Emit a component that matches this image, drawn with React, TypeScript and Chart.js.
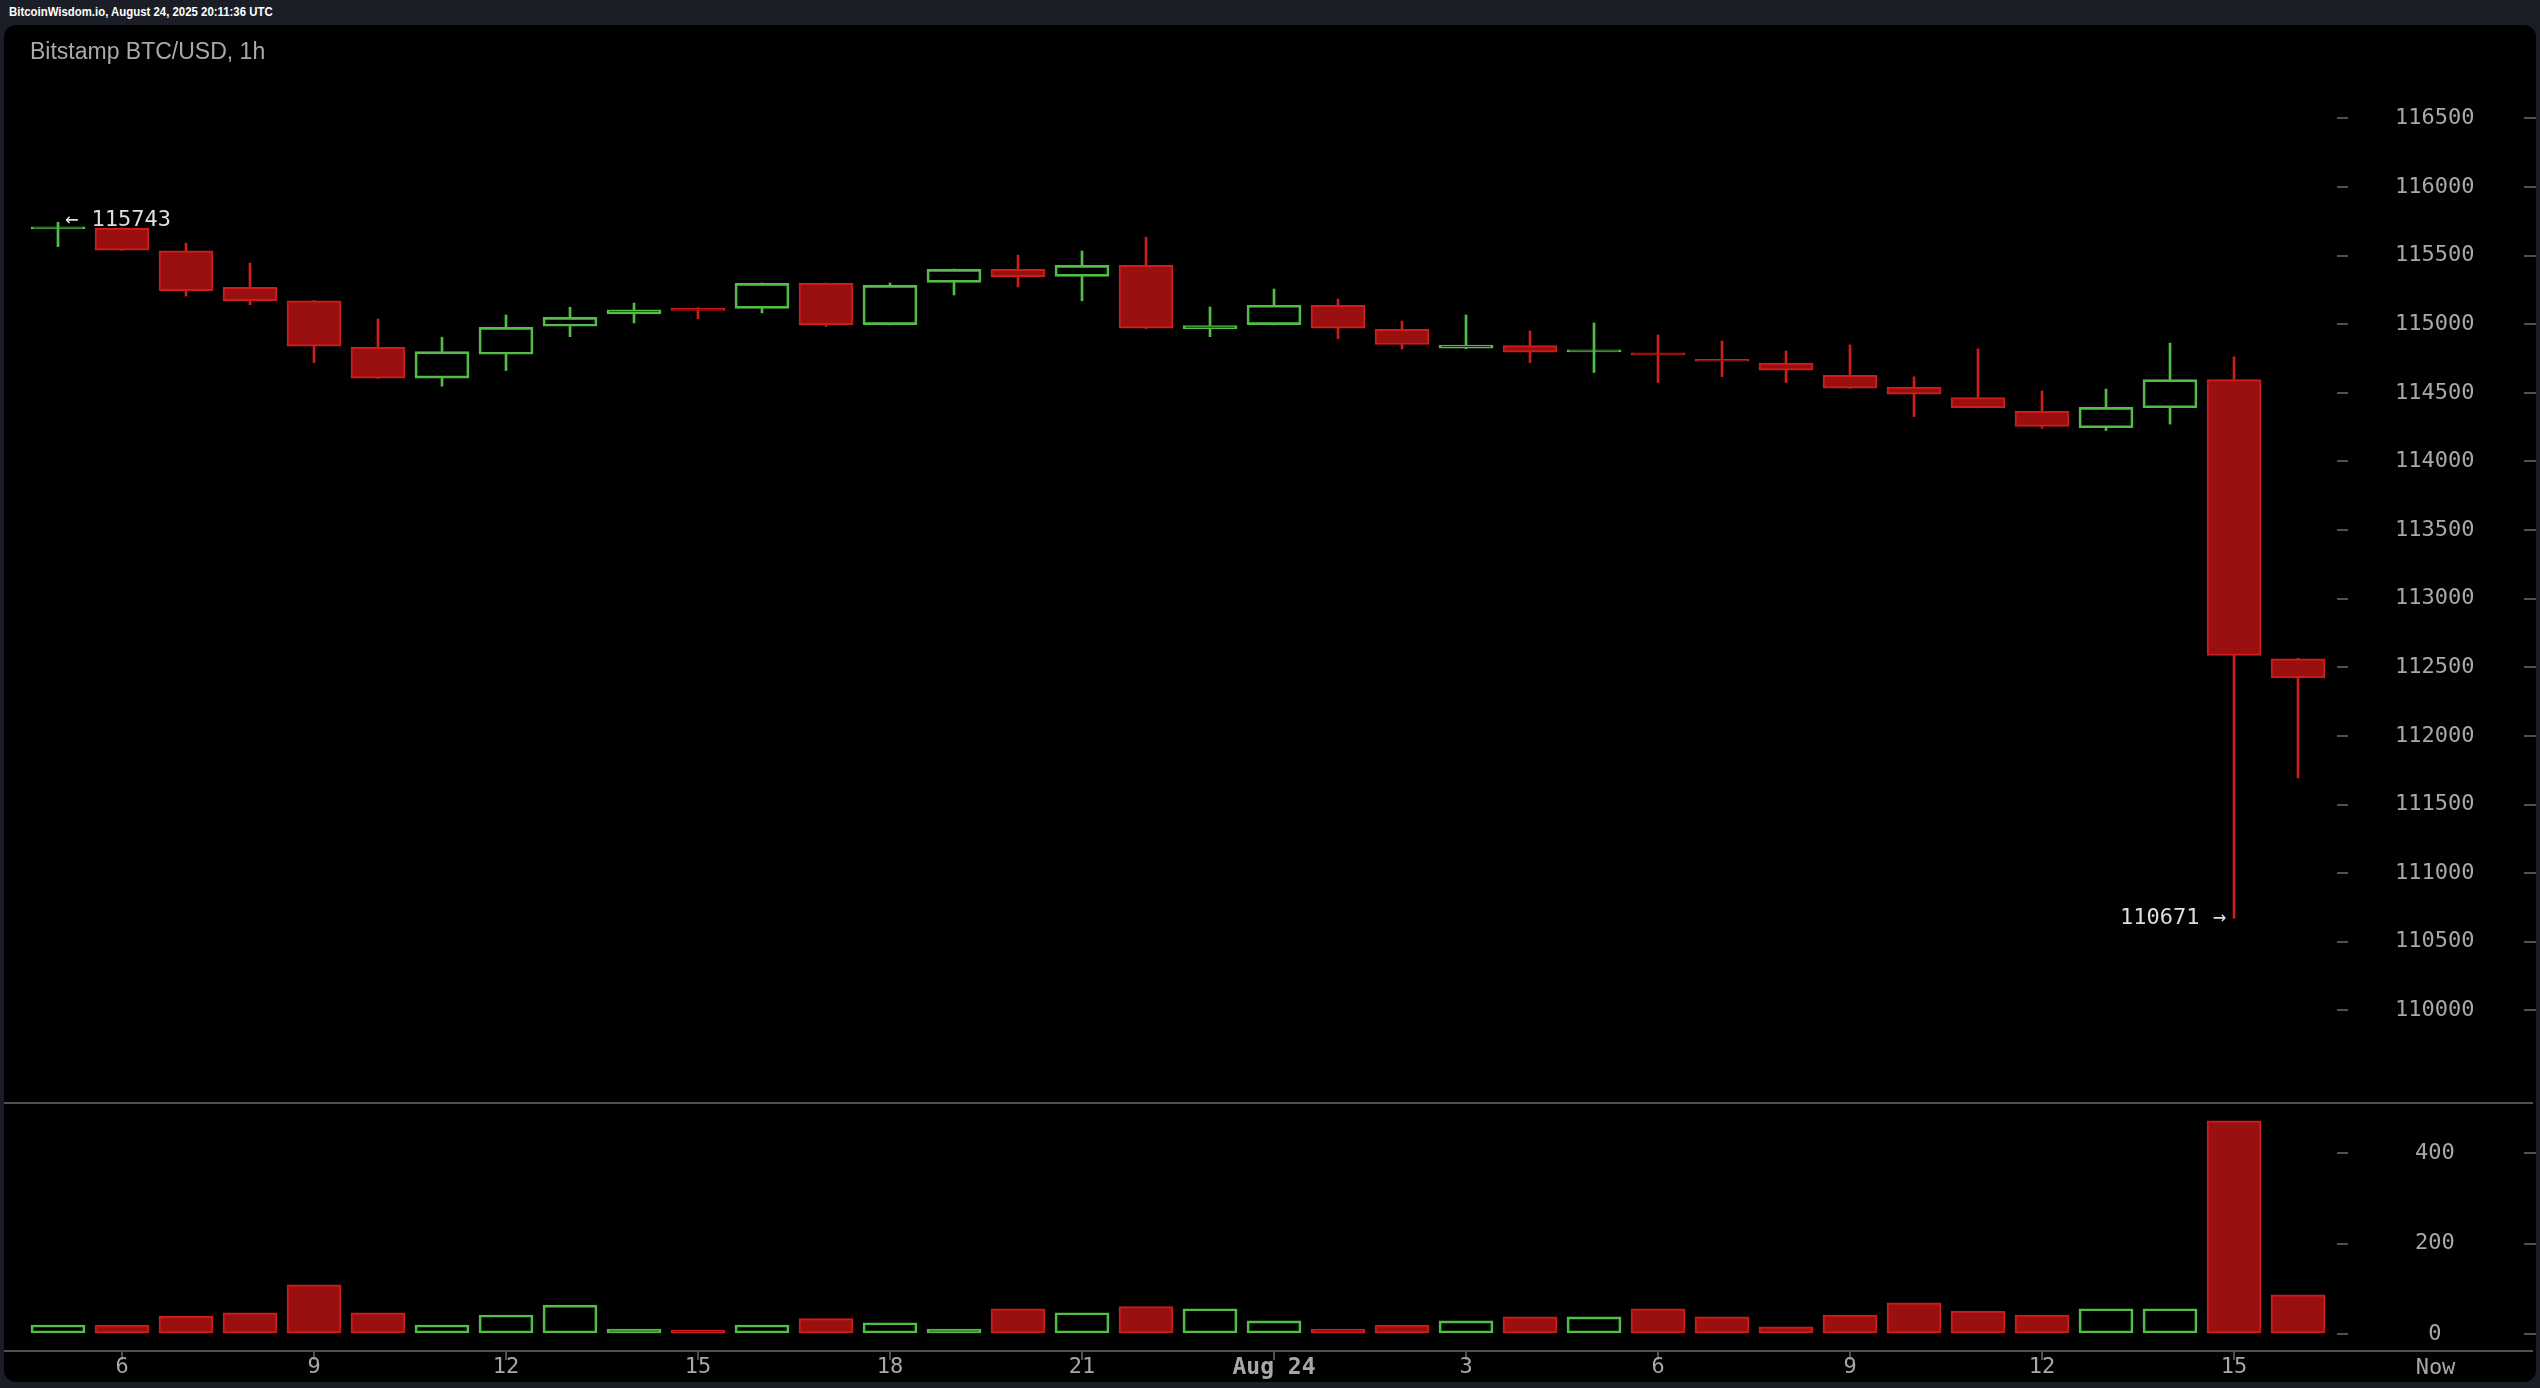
import React, { useEffect, useRef } from "react";
import { Chart, registerables } from "chart.js";

Chart.register(...registerables);

// ---- data (1h candles, Bitstamp BTC/USD, Aug 23 05:00 -> Aug 24 16:00) ----
const candleTimes = [
  "05", "06", "07", "08", "09", "10", "11", "12", "13", "14", "15", "16",
  "17", "18", "19", "20", "21", "22", "23", "00", "01", "02", "03", "04",
  "05", "06", "07", "08", "09", "10", "11", "12", "13", "14", "15", "16",
];
const opens = [
  115695, 115700, 115535, 115268, 115170, 114832, 114607, 114781, 114985, 115075, 115110, 115115,
  115297, 114997, 115305, 115399, 115348, 115428, 114968, 114997, 115138, 114963, 114825, 114844,
  114798, 114782, 114740, 114716, 114628, 114541, 114466, 114365, 114245, 114391, 114596, 112561,
];
const highs = [
  115743, 115702, 115590, 115445, 115172, 115038, 114905, 115067, 115123, 115154, 115120, 115300,
  115300, 115300, 115402, 115503, 115533, 115634, 115125, 115256, 115183, 115023, 115067, 114951,
  115009, 114922, 114878, 114805, 114849, 114616, 114820, 114514, 114527, 114862, 114762, 112565,
];
const lows = [
  115565, 115538, 115205, 115142, 114720, 114605, 114548, 114662, 114909, 115009, 115039, 115082,
  114983, 114995, 115213, 115271, 115171, 114968, 114909, 114995, 114895, 114820, 114822, 114720,
  114648, 114575, 114618, 114575, 114532, 114327, 114390, 114241, 114225, 114272, 110671, 111693,
];
const closes = [
  115700, 115540, 115245, 115172, 114840, 114607, 114800, 114977, 115050, 115105, 115100, 115297,
  114997, 115283, 115399, 115346, 115428, 114970, 114990, 115138, 114970, 114852, 114848, 114796,
  114802, 114776, 114730, 114665, 114534, 114490, 114392, 114255, 114394, 114596, 112587, 112423,
];
const volumes = [
  20, 20, 39, 47, 109, 47, 20, 42, 64, 11, 8, 20,
  34, 25, 11, 56, 47, 61, 56, 29, 11, 20, 29, 38,
  38, 56, 38, 16, 42, 69, 51, 42, 56, 56, 472, 87,
];

// ---- axis ticks ----
const priceTicks = [110000, 110500, 111000, 111500, 112000, 112500, 113000, 113500, 114000, 114500, 115000, 115500, 116000, 116500];
const volumeTicks = [0, 200, 400];
const timeTickIndex = [1, 4, 7, 10, 13, 16, 19, 22, 25, 28, 31, 34];
const timeTickLabels = ["6", "9", "12", "15", "18", "21", "Aug 24", "3", "6", "9", "12", "15"];
const nowLabel = "Now";

// ---- axis ranges ----
const PRICE_MIN = 109325;
const PRICE_MAX = 117180;
const VOL_MIN = -37.6;
const VOL_MAX = 511.4;
const X_MIN = -0.84375;
const X_MAX = 35.609;

// ---- styles ----
const GREEN = "#52be46";
const RED_EDGE = "#d01c1c";
const RED_FILL = "#9a1010";
const AXIS_GRAY = "#505050";
const TICK_TEXT = "#a8a8a8";
const MONO = '"DejaVu Sans Mono", monospace';

const isUp = opens.map((o, i) => closes[i] >= o);
const edgeColors = isUp.map((u) => (u ? GREEN : RED_EDGE));
const fillColors = isUp.map((u) => (u ? "rgba(0,0,0,0)" : RED_FILL));

const bodyData = opens.map((o, i) => ({ x: i, y: [Math.min(o, closes[i]), Math.max(o, closes[i])] }));
const upperWickData = opens.map((o, i) => ({ x: i, y: [Math.max(o, closes[i]), highs[i]] }));
const lowerWickData = opens.map((o, i) => ({ x: i, y: [lows[i], Math.min(o, closes[i])] }));
const volumeData = volumes.map((v, i) => ({ x: i, y: v }));

const overlayPlugin = {
  id: "overlay",
  afterDraw(chart: any) {
    const { ctx } = chart;
    const xs = chart.scales.x;
    const yp = chart.scales.y;
    const yv = chart.scales.yv;
    ctx.save();
    // pane separator + bottom axis line, full width
    ctx.strokeStyle = AXIS_GRAY;
    ctx.lineWidth = 2;
    for (const yy of [yv.top, xs.top]) {
      ctx.beginPath();
      ctx.moveTo(0, yy);
      ctx.lineTo(chart.width - 3, yy);
      ctx.stroke();
    }
    // right edge dashes
    for (const sc of [yp, yv]) {
      for (const t of sc.ticks) {
        const py = Math.round(sc.getPixelForValue(t.value));
        ctx.beginPath();
        ctx.moveTo(chart.width - 12, py);
        ctx.lineTo(chart.width, py);
        ctx.stroke();
      }
    }
    // "Now" label in the axis column
    ctx.fillStyle = TICK_TEXT;
    ctx.font = `22px ${MONO}`;
    ctx.textAlign = "center";
    ctx.textBaseline = "middle";
    ctx.fillText(nowLabel, (yp.left + yp.right) / 2 - 1, xs.top + 17);

    // high / low annotations
    let hi = 0;
    let lo = 0;
    highs.forEach((h, i) => { if (h > highs[hi]) hi = i; });
    lows.forEach((l, i) => { if (l < lows[lo]) lo = i; });
    ctx.fillStyle = "#dedede";
    ctx.font = `22px ${MONO}`;
    ctx.textAlign = "left";
    ctx.fillText("\u2190 " + highs[hi], xs.getPixelForValue(hi) + 7, yp.getPixelForValue(highs[hi]) - 2);
    ctx.textAlign = "right";
    ctx.fillText(lows[lo] + " \u2192", xs.getPixelForValue(lo) - 8, yp.getPixelForValue(lows[lo]));
    ctx.restore();
  },
};

export default function App() {
  const ref = useRef<HTMLCanvasElement>(null);
  useEffect(() => {
    if (!ref.current) return;
    const chart = new Chart(ref.current, {
      type: "bar",
      data: {
        datasets: [
          {
            label: "body",
            data: bodyData as any,
            yAxisID: "y",
            backgroundColor: fillColors,
            borderColor: edgeColors,
            borderWidth: 2,
            borderSkipped: false,
            barThickness: 54,
            minBarLength: 2,
            grouped: false,
          } as any,
          {
            label: "upperWick",
            data: upperWickData as any,
            yAxisID: "y",
            backgroundColor: edgeColors,
            borderWidth: 0,
            barThickness: 2,
            grouped: false,
          } as any,
          {
            label: "lowerWick",
            data: lowerWickData as any,
            yAxisID: "y",
            backgroundColor: edgeColors,
            borderWidth: 0,
            barThickness: 2,
            grouped: false,
          } as any,
          {
            label: "volume",
            data: volumeData as any,
            yAxisID: "yv",
            backgroundColor: fillColors,
            borderColor: edgeColors,
            borderWidth: 2,
            borderSkipped: false,
            barThickness: 54,
            grouped: false,
          } as any,
        ],
      },
      options: {
        responsive: false,
        animation: false,
        devicePixelRatio: 1,
        events: [],
        layout: { padding: 0 },
        plugins: {
          legend: { display: false },
          tooltip: { enabled: false },
          title: { display: false },
        },
        scales: {
          x: {
            type: "linear",
            position: "bottom",
            min: X_MIN,
            max: X_MAX,
            offset: false,
            grid: { display: true, drawOnChartArea: false, drawTicks: true, tickLength: 9, color: AXIS_GRAY, lineWidth: 2, offset: false },
            border: { display: false },
            afterBuildTicks: (s: any) => {
              s.ticks = timeTickIndex.map((v) => ({ value: v }));
            },
            afterFit: (s: any) => {
              s.height = 31;
              s.paddingLeft = 0;
              s.paddingRight = 0;
            },
            ticks: {
              autoSkip: false,
              maxRotation: 0,
              minRotation: 0,
              padding: -6,
              color: TICK_TEXT,
              font: (c: any) =>
                c.tick && c.tick.label === "Aug 24"
                  ? { family: MONO, size: 23, weight: "bold" }
                  : { family: MONO, size: 22 },
              callback: (_v: any, i: number) => timeTickLabels[i],
            },
          } as any,
          y: {
            type: "linear",
            position: "right",
            stack: "panes",
            stackWeight: 1078,
            min: PRICE_MIN,
            max: PRICE_MAX,
            grid: { drawOnChartArea: false, drawTicks: true, tickLength: 11, color: AXIS_GRAY, lineWidth: 2 },
            border: { display: false },
            afterBuildTicks: (s: any) => {
              s.ticks = priceTicks.map((v) => ({ value: v }));
            },
            afterFit: (s: any) => {
              s.width = 199;
              s.paddingTop = 0;
              s.paddingBottom = 0;
            },
            ticks: {
              autoSkip: false,
              crossAlign: "center",
              padding: 47,
              color: TICK_TEXT,
              font: { family: MONO, size: 22 },
              callback: (v: any) => String(v),
            },
          } as any,
          yv: {
            type: "linear",
            position: "right",
            stack: "panes",
            stackWeight: 248,
            min: VOL_MIN,
            max: VOL_MAX,
            grid: { drawOnChartArea: false, drawTicks: true, tickLength: 11, color: AXIS_GRAY, lineWidth: 2 },
            border: { display: false },
            afterBuildTicks: (s: any) => {
              s.ticks = volumeTicks.map((v) => ({ value: v }));
            },
            afterFit: (s: any) => {
              s.width = 199;
              s.paddingTop = 0;
              s.paddingBottom = 0;
            },
            ticks: {
              autoSkip: false,
              crossAlign: "center",
              padding: 67,
              color: TICK_TEXT,
              font: { family: MONO, size: 22 },
              callback: (v: any) => String(v),
            },
          } as any,
        },
      } as any,
      plugins: [overlayPlugin],
    });
    return () => chart.destroy();
  }, []);

  return (
    <div style={{ position: "fixed", left: 0, top: 0, width: 2540, height: 1388, background: "#1b1e26", overflow: "hidden" }}>
      <div
        style={{
          position: "absolute",
          left: 9,
          top: 6,
          color: "#ffffff",
          font: 'bold 12px "Liberation Sans", Arial, sans-serif',
          lineHeight: "13px",
          whiteSpace: "nowrap",
          transform: "scaleX(0.95)",
          transformOrigin: "left top",
        }}
      >
        BitcoinWisdom.io, August 24, 2025 20:11:36 UTC
      </div>
      <div
        style={{
          position: "absolute",
          left: 4,
          top: 25,
          width: 2532,
          height: 1357,
          background: "#000",
          borderRadius: 12,
          overflow: "hidden",
        }}
      >
        <canvas ref={ref} width={2532} height={1357} style={{ display: "block", width: 2532, height: 1357 }} />
        <div
          style={{
            position: "absolute",
            left: 26,
            top: 15,
            color: "#a9a9a9",
            font: '23px "Liberation Sans", Arial, sans-serif',
            lineHeight: "23px",
            whiteSpace: "nowrap",
          }}
        >
          Bitstamp BTC/USD, 1h
        </div>
      </div>
    </div>
  );
}
